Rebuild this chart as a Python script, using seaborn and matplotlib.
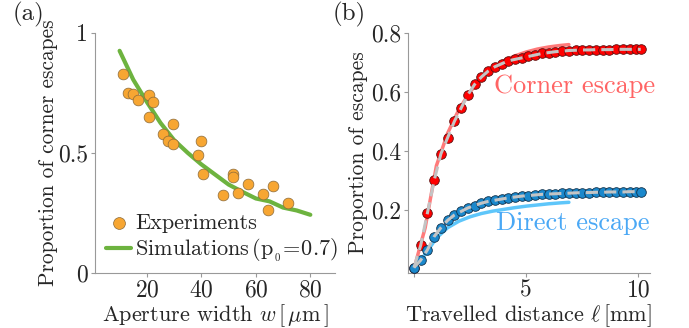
import numpy as np
import pandas as pd
import matplotlib
matplotlib.use("Agg")
import matplotlib.pyplot as plt
import seaborn as sns


# (a) corner escapes vs aperture width
exp_width = [11.3, 13.1, 15.0, 16.8, 20.7, 22.3, 20.8, 29.7, 26.0, 27.8, 29.7, 39.8,
             38.8, 40.7, 51.7, 51.7, 48.0, 53.5, 57.0, 62.7, 66.3, 64.4, 71.9]
exp_prop = [0.829, 0.749, 0.745, 0.720, 0.739, 0.711, 0.651, 0.619, 0.579, 0.550, 0.536, 0.550,
            0.489, 0.412, 0.411, 0.399, 0.325, 0.332, 0.370, 0.329, 0.364, 0.263, 0.290]

sim_width = [10, 15, 20, 25, 30, 35, 40, 45, 50, 55, 60, 65, 70, 75, 80]
sim_prop = [0.925, 0.805, 0.712, 0.625, 0.553, 0.500, 0.452, 0.410, 0.368, 0.338, 0.310,
            0.298, 0.272, 0.260, 0.242]

# (b) cumulative escapes vs travelled distance
dist = [0.0, 0.3, 0.6, 0.9, 1.2, 1.5, 1.8, 2.1, 2.4, 2.7, 3.0, 3.3, 3.6, 3.9, 4.2, 4.5, 4.8,
        5.1, 5.4, 5.7, 6.0, 6.3, 6.6, 6.9, 7.2, 7.5, 7.8, 8.1, 8.4, 8.7, 9.0, 9.3, 9.6, 9.9, 10.1]
corner = [0.005, 0.080, 0.190, 0.300, 0.390, 0.445, 0.500, 0.545, 0.590, 0.625, 0.650, 0.670,
          0.685, 0.695, 0.705, 0.710, 0.715, 0.720, 0.725, 0.730, 0.733, 0.736, 0.738, 0.740,
          0.741, 0.742, 0.742, 0.743, 0.743, 0.743, 0.744, 0.744, 0.744, 0.744, 0.744]
direct = [0.005, 0.030, 0.065, 0.110, 0.140, 0.165, 0.183, 0.195, 0.207, 0.215, 0.223, 0.229,
          0.233, 0.237, 0.241, 0.244, 0.247, 0.249, 0.251, 0.253, 0.254, 0.255, 0.256, 0.257,
          0.258, 0.259, 0.259, 0.260, 0.260, 0.261, 0.261, 0.261, 0.262, 0.262, 0.262]

sim_dist = [0.0, 0.5, 1.0, 1.5, 2.0, 2.5, 3.0, 3.5, 4.0, 4.5, 5.0, 5.5, 6.0, 6.5, 6.9]
sim_corner = [0.0, 0.140, 0.350, 0.460, 0.540, 0.600, 0.645, 0.680, 0.705, 0.722, 0.735,
              0.745, 0.752, 0.757, 0.760]
sim_dist_direct = [0.2, 0.5, 1.0, 1.5, 2.0, 2.5, 3.0, 3.5, 4.0, 4.5, 5.0, 5.5, 6.0, 6.5, 6.9]
sim_direct = [0.020, 0.050, 0.105, 0.140, 0.162, 0.177, 0.188, 0.196, 0.202, 0.208, 0.213,
              0.217, 0.221, 0.224, 0.226]


sns.set_style("white")
plt.rcParams["font.family"] = "cmr10"
plt.rcParams["mathtext.fontset"] = "cm"
plt.rcParams["axes.formatter.use_mathtext"] = True

fig = plt.figure(figsize=(6.89, 3.28), dpi=100)
ax1 = fig.add_axes([0.138, 0.168, 0.348, 0.732])
ax2 = fig.add_axes([0.592, 0.168, 0.351, 0.732])

for ax in (ax1, ax2):
    sns.despine(ax=ax)
    for side in ("left", "bottom"):
        ax.spines[side].set_color("#999999")
        ax.spines[side].set_linewidth(0.8)
    ax.tick_params(direction="out", length=3, width=0.8, color="#999999",
                   labelsize=17, pad=2, left=True, bottom=True)

# panel (a)
sns.lineplot(x=sim_width, y=sim_prop, ax=ax1, color="#6db33f", linewidth=3,
             label=r"Simulations$\,(\mathrm{p}_{_0}\!=\!0.7)$", zorder=2)
sns.scatterplot(x=exp_width, y=exp_prop, ax=ax1, color="#f7a632", edgecolor="#8a6a3a",
                linewidth=0.5, s=60, label="Experiments", zorder=3)
ax1.set_xlim(1, 89)
ax1.set_ylim(0, 1)
ax1.set_xticks([20, 40, 60, 80])
ax1.set_yticks([0, 0.5, 1])
ax1.set_yticklabels(["0", "0.5", "1"])
ax1.set_xlabel(r"Aperture width $w\,[\,\mu\mathrm{m}\,]$", fontsize=16, labelpad=0)
ax1.set_ylabel("Proportion of corner escapes", fontsize=15.4)
ax1.yaxis.set_label_coords(-0.155, 0.5)
handles, labels = ax1.get_legend_handles_labels()
ax1.legend(handles[::-1], labels[::-1], loc="lower left", frameon=False, fontsize=16,
           handlelength=1.1, handletextpad=0.2, borderaxespad=0.0, labelspacing=0.15,
           bbox_to_anchor=(0.01, 0.0), markerscale=1.1)

# panel (b)
sns.lineplot(x=sim_dist, y=sim_corner, ax=ax2, color="#ff7a7a", linewidth=2.5, zorder=1)
sns.lineplot(x=sim_dist_direct, y=sim_direct, ax=ax2, color="#5ec6fa", linewidth=2.5, zorder=1)
sns.scatterplot(x=dist, y=corner, ax=ax2, color="#ff0000", edgecolor="#5a1010",
                linewidth=0.6, s=48, zorder=3)
sns.scatterplot(x=dist, y=direct, ax=ax2, color="#1a88cc", edgecolor="#10304a",
                linewidth=0.6, s=48, zorder=3)
sns.lineplot(x=dist, y=corner, ax=ax2, color="#c4c4c4", linewidth=2.2,
             zorder=4).lines[-1].set_dashes([4, 2])
sns.lineplot(x=dist, y=direct, ax=ax2, color="#c4c4c4", linewidth=2.2,
             zorder=4).lines[-1].set_dashes([4, 2])
ax2.text(7.15, 0.618, "Corner escape", color="#ff6464", fontsize=19, ha="center", va="center")
ax2.text(7.05, 0.155, "Direct escape", color="#4aa8f5", fontsize=19, ha="center", va="center")
ax2.set_xlim(-0.27, 10.5)
ax2.set_ylim(-0.013, 0.8)
ax2.set_xticks([0, 5, 10])
ax2.set_xticklabels(["", "5", "10"])
ax2.set_yticks([0.2, 0.4, 0.6, 0.8])
ax2.set_yticklabels(["0.2", "0.4", "0.6", "0.8"])
ax2.set_xlabel(r"Travelled distance $\ell\,$[mm]", fontsize=16, labelpad=0)
ax2.set_ylabel("Proportion of escapes", fontsize=15.5)
ax2.yaxis.set_label_coords(-0.165, 0.5)

fig.text(0.018, 0.955, "(a)", fontsize=18, va="center", ha="left")
fig.text(0.483, 0.955, "(b)", fontsize=18, va="center", ha="left")

fig.savefig("out.png", dpi=100)
